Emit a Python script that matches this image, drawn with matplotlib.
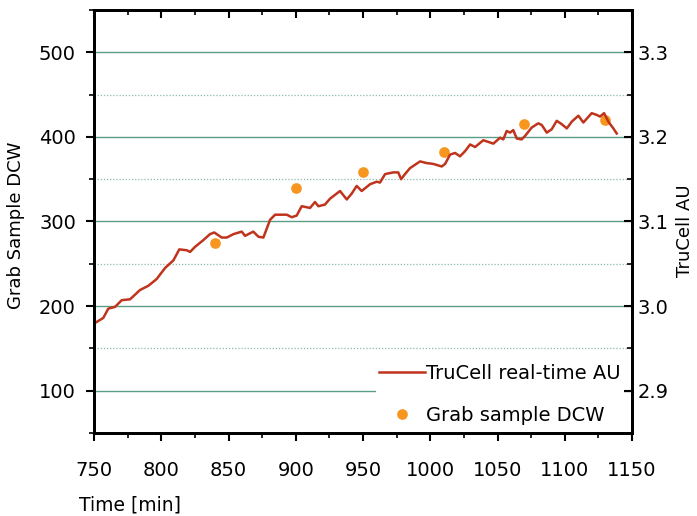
import matplotlib
matplotlib.use('Agg')
import matplotlib.pyplot as plt
from matplotlib.ticker import MultipleLocator

plt.rcParams['font.family'] = ['DejaVu Sans']

# TruCell real-time signal (right axis, AU)
trucell_time = [750.7, 756.9, 760.6, 765.6, 770.6, 776.8, 784.2, 790.4, 796.6, 802.8,
                809.0, 813.4, 818.9, 821.4, 825.1, 831.3, 836.2, 839.4, 844.9, 848.7,
                853.6, 859.8, 862.3, 868.4, 872.2, 875.9, 880.9, 884.6, 893.3, 897.0,
                900.7, 904.4, 910.6, 914.3, 916.8, 921.7, 925.5, 932.9, 937.9, 941.6,
                945.3, 949.0, 955.2, 960.2, 962.6, 966.4, 972.5, 976.2, 978.3, 981.2,
                984.9, 992.4, 997.4, 1002.3, 1008.5, 1011.0, 1014.7, 1018.4, 1022.1, 1025.8,
                1029.6, 1033.3, 1039.4, 1043.2, 1046.9, 1051.9, 1054.3, 1056.8, 1059.3, 1061.7,
                1064.3, 1067.9, 1070.4, 1075.4, 1080.3, 1082.9, 1086.6, 1090.3, 1094.0, 1097.7,
                1101.5, 1105.2, 1110.1, 1113.8, 1120.0, 1123.7, 1126.2, 1129.2, 1132.4, 1136.1,
                1138.6]
trucell_au = [2.980, 2.986, 2.997, 2.999, 3.007, 3.008, 3.019, 3.024, 3.032, 3.045,
              3.054, 3.067, 3.066, 3.064, 3.070, 3.078, 3.085, 3.087, 3.081, 3.081,
              3.085, 3.088, 3.083, 3.088, 3.082, 3.081, 3.102, 3.108, 3.108, 3.105,
              3.107, 3.118, 3.116, 3.123, 3.118, 3.120, 3.127, 3.136, 3.126, 3.133,
              3.142, 3.136, 3.144, 3.147, 3.146, 3.156, 3.158, 3.158, 3.150, 3.156,
              3.163, 3.171, 3.169, 3.168, 3.165, 3.168, 3.179, 3.181, 3.177, 3.183,
              3.191, 3.188, 3.196, 3.194, 3.192, 3.199, 3.197, 3.207, 3.205, 3.208,
              3.198, 3.197, 3.201, 3.211, 3.216, 3.214, 3.205, 3.209, 3.219, 3.215,
              3.210, 3.218, 3.225, 3.217, 3.228, 3.226, 3.224, 3.228, 3.218, 3.210,
              3.204]

# grab samples (left axis)
grab_time = [840, 900, 950, 1010, 1070, 1130]
grab_dcw = [274, 339, 358, 382, 415, 420]

x_ticks = [750, 800, 850, 900, 950, 1000, 1050, 1100, 1150]
left_ticks = [100, 200, 300, 400, 500]
right_ticks = [2.9, 3.0, 3.1, 3.2, 3.3]

grid_col = '#5a9e88'
line_col = '#c0331c'
dot_col = '#f7961f'

fig = plt.figure(figsize=(6.97, 5.16), dpi=100)
ax = fig.add_axes([0.1349, 0.1609, 0.7719, 0.8198])
ax2 = ax.twinx()

dots, = ax.plot(grab_time, grab_dcw, 'o', color=dot_col, markersize=7.7,
                markeredgewidth=0, label='Grab sample DCW')
line, = ax2.plot(trucell_time, trucell_au, color=line_col, lw=1.8,
                 label='TruCell real-time AU')

ax.set_xlim(750, 1150)
ax.set_ylim(50, 550)
ax2.set_ylim(2.85, 3.35)

ax.set_xticks(x_ticks)
ax.xaxis.set_minor_locator(MultipleLocator(25))
ax.set_yticks(left_ticks)
ax.yaxis.set_minor_locator(MultipleLocator(50))
ax2.set_yticks(right_ticks)
ax2.set_yticklabels(['%.1f' % v for v in right_ticks])
ax2.yaxis.set_minor_locator(MultipleLocator(0.05))

ax.yaxis.grid(True, which='major', color=grid_col, lw=1.0)
ax.yaxis.grid(True, which='minor', color=grid_col, lw=0.9, ls=(0, (1, 1.5)), alpha=0.7)
ax.set_axisbelow(True)

for a in (ax, ax2):
    for s in a.spines.values():
        s.set_linewidth(2)

ax.tick_params(axis='x', which='major', direction='out', length=6, width=1.5,
               labelsize=14, pad=14)
ax.tick_params(axis='x', which='minor', direction='out', length=3.5, width=1.2)
ax.tick_params(axis='y', which='major', direction='out', length=6, width=1.5,
               labelsize=14, pad=7)
ax.tick_params(axis='y', which='minor', direction='out', length=3.5, width=1.2)
ax2.tick_params(axis='y', which='major', direction='in', length=6, width=1.5,
                labelsize=14, pad=4)
ax2.tick_params(axis='y', which='minor', direction='in', length=3.5, width=1.2)

top = ax.secondary_xaxis('top')
top.set_xticks(x_ticks)
top.xaxis.set_minor_locator(MultipleLocator(25))
top.tick_params(which='major', direction='in', length=6, width=1.5, labeltop=False)
top.tick_params(which='minor', direction='in', length=3.5, width=1.2)
top.spines['top'].set_linewidth(2)

ax.set_xlabel('Time [min]', fontsize=13.5, ha='left', va='center')
ax.xaxis.set_label_coords(-0.028, -0.170)
ax.set_ylabel('Grab Sample DCW', fontsize=13, va='center')
ax.yaxis.set_label_coords(-0.145, 0.492)
ax2.set_ylabel('TruCell AU', fontsize=13, va='center', rotation=90)
ax2.yaxis.set_label_coords(1.0985, 0.478)

leg = ax2.legend([line, dots], ['TruCell real-time AU', 'Grab sample DCW'],
                 loc='lower right', bbox_to_anchor=(0.985, 0.012), borderaxespad=0,
                 fontsize=14, frameon=True, facecolor='white', edgecolor='none',
                 framealpha=1, fancybox=False, handlelength=2.4, handletextpad=0.05,
                 labelspacing=1.2, borderpad=0.15)

fig.savefig('out.png', dpi=100)
